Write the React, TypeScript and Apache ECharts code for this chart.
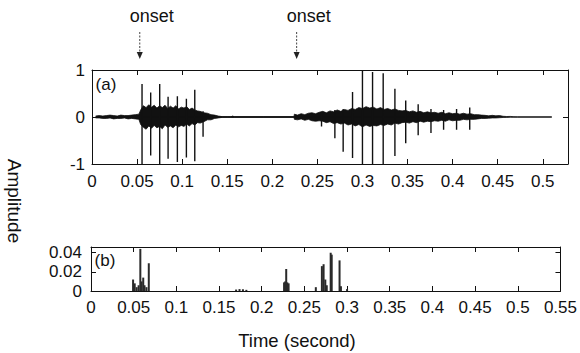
import React, { useEffect, useRef } from "react";
import * as echarts from "echarts";

// onset markers (seconds)
const onsetTimes = [0.053, 0.227];

// (a) speech waveform: noise envelope (upper / lower)
const envTimes = [
  0.004, 0.008, 0.012, 0.016, 0.020, 0.024, 0.028, 0.032, 0.036, 0.040, 0.044, 0.048, 0.052,
  0.054, 0.057, 0.060, 0.063, 0.066, 0.069, 0.072, 0.075, 0.078, 0.081, 0.084, 0.087, 0.090,
  0.093, 0.096, 0.099, 0.102, 0.105, 0.108, 0.111, 0.114, 0.117, 0.120, 0.124, 0.128, 0.132,
  0.136, 0.140, 0.145, 0.150, 0.154, 0.156, 0.158, 0.190, 0.224,
  0.2245, 0.228, 0.232, 0.236, 0.240, 0.244, 0.248, 0.252, 0.256, 0.260, 0.264, 0.268, 0.272,
  0.276, 0.280, 0.284, 0.288, 0.292, 0.296, 0.300, 0.304, 0.308, 0.312, 0.316, 0.320, 0.324,
  0.328, 0.332, 0.336, 0.340, 0.344, 0.348, 0.352, 0.356, 0.360, 0.364, 0.368, 0.372, 0.376,
  0.380, 0.384, 0.388, 0.392, 0.396, 0.400, 0.404, 0.408, 0.412, 0.416, 0.420, 0.424, 0.428,
  0.432, 0.436, 0.440, 0.444, 0.448, 0.452, 0.456, 0.460, 0.464, 0.468, 0.472, 0.510,
];
const envHigh = [
  0.02, 0.03, 0.02, 0.03, 0.04, 0.03, 0.02, 0.04, 0.03, 0.03, 0.04, 0.05, 0.06,
  0.15, 0.24, 0.20, 0.26, 0.21, 0.25, 0.19, 0.24, 0.20, 0.25, 0.18, 0.23, 0.19,
  0.24, 0.17, 0.21, 0.19, 0.22, 0.16, 0.19, 0.15, 0.13, 0.12, 0.09, 0.08, 0.05,
  0.04, 0.02, 0.006, 0.004, 0.004, 0.02, 0.004, 0.004, 0.004,
  0.06, 0.04, 0.07, 0.05, 0.08, 0.09, 0.07, 0.10, 0.12, 0.09, 0.13, 0.11, 0.15,
  0.12, 0.16, 0.14, 0.18, 0.16, 0.20, 0.18, 0.22, 0.19, 0.21, 0.17, 0.20, 0.16,
  0.18, 0.15, 0.17, 0.14, 0.13, 0.14, 0.11, 0.13, 0.10, 0.12, 0.09, 0.11, 0.09,
  0.10, 0.08, 0.10, 0.07, 0.09, 0.07, 0.08, 0.06, 0.08, 0.06, 0.07, 0.05, 0.05,
  0.04, 0.035, 0.025, 0.035, 0.025, 0.03, 0.015, 0.01, 0.012, 0.006, 0.004, 0.004,
];
const envLow = [
  -0.02, -0.02, -0.03, -0.03, -0.02, -0.04, -0.03, -0.03, -0.02, -0.04, -0.03, -0.04, -0.05,
  -0.16, -0.22, -0.26, -0.19, -0.24, -0.18, -0.23, -0.20, -0.25, -0.17, -0.22, -0.19, -0.23,
  -0.17, -0.21, -0.18, -0.20, -0.15, -0.19, -0.14, -0.17, -0.12, -0.13, -0.10, -0.06, -0.06,
  -0.03, -0.02, -0.006, -0.004, -0.004, -0.01, -0.004, -0.004, -0.004,
  -0.05, -0.06, -0.04, -0.07, -0.05, -0.08, -0.09, -0.08, -0.09, -0.12, -0.10, -0.14, -0.12,
  -0.15, -0.13, -0.17, -0.15, -0.19, -0.16, -0.21, -0.17, -0.20, -0.18, -0.19, -0.16, -0.18,
  -0.15, -0.17, -0.13, -0.15, -0.12, -0.11, -0.13, -0.10, -0.12, -0.09, -0.11, -0.09, -0.10,
  -0.08, -0.09, -0.07, -0.09, -0.06, -0.08, -0.07, -0.07, -0.05, -0.06, -0.05, -0.05, -0.04,
  -0.03, -0.03, -0.025, -0.02, -0.02, -0.015, -0.01, -0.008, -0.006, -0.005, -0.004, -0.004,
];

// (a) glottal pulses: time, positive peak, negative peak
const spikeTimes = [
  0.0555, 0.0651, 0.0751, 0.0844, 0.0947, 0.1047, 0.114, 0.1232,
  0.2546, 0.2694, 0.2786, 0.289, 0.300, 0.3112, 0.323, 0.336, 0.348, 0.3618, 0.376, 0.390, 0.4044, 0.419,
];
const spikeUp = [
  0.70, 0.52, 0.70, 0.43, 0.44, 0.39, 0.58, 0.12,
  0.10, 0.15, 0.17, 0.53, 1.0, 0.96, 0.93, 0.60, 0.35, 0.27, 0.17, 0.15, 0.17, 0.20,
];
const spikeDown = [
  -1.0, -0.82, -1.0, -0.89, -0.96, -0.86, -0.94, -0.42,
  -0.20, -0.45, -0.74, -0.87, -1.0, -1.0, -1.0, -0.83, -0.56, -0.39, -0.34, -0.27, -0.27, -0.27,
];

// (b) detection function
const bTimes = [
  0.0493, 0.0512, 0.0535, 0.0558, 0.0578, 0.0593, 0.0612, 0.0627, 0.065, 0.0677,
  0.170, 0.174, 0.178, 0.182,
  0.2262, 0.2275, 0.2287, 0.2300, 0.2315,
  0.2634, 0.2705, 0.2725, 0.2745, 0.2762, 0.2808, 0.2820, 0.2912, 0.2928, 0.300,
];
const bValues = [
  0.012, 0.008, 0.004, 0.006, 0.044, 0.010, 0.014, 0.006, 0.004, 0.029,
  0.0015, 0.002, 0.0018, 0.0012,
  0.009, 0.010, 0.023, 0.009, 0.008,
  0.004, 0.026, 0.028, 0.012, 0.006, 0.040, 0.038, 0.032, 0.005, 0.002,
];

const FONT = "'Liberation Sans', Arial, sans-serif";
const INK = "#111";

export default function App() {
  const ref = useRef<HTMLDivElement>(null);
  useEffect(() => {
    const chart = echarts.init(ref.current!, null, { renderer: "svg" });

    const fmt = (v: number) => String(Math.round(v * 1000) / 1000);
    const boxLine = { show: true, onZero: false, lineStyle: { color: INK, width: 1 } };
    const tickIn = { show: true, inside: true, length: 5, lineStyle: { color: INK, width: 1 } };
    const label = (margin: number, extra: any = {}) => ({
      show: true,
      color: INK,
      fontSize: 17,
      fontFamily: FONT,
      margin,
      formatter: fmt,
      ...extra,
    });

    const spikeData: number[][] = [];
    spikeTimes.forEach((t, i) => {
      spikeData.push([t, 0], [t, spikeUp[i]], [t, spikeDown[i]], [t, 0]);
    });

    chart.setOption({
      animation: false,
      backgroundColor: "#fff",
      grid: [
        { left: 92, top: 70, width: 476, height: 94 },
        { left: 91, top: 247, width: 477, height: 44 },
      ],
      xAxis: [
        {
          type: "value", gridIndex: 0, min: 0, max: 0.528, interval: 0.05, position: "bottom",
          axisLine: boxLine, axisTick: tickIn, splitLine: { show: false },
          axisLabel: label(9, { showMaxLabel: false }),
        },
        {
          type: "value", gridIndex: 0, min: 0, max: 0.528, interval: 0.05, position: "top",
          axisLine: boxLine, axisTick: tickIn, splitLine: { show: false }, axisLabel: { show: false },
        },
        {
          type: "value", gridIndex: 1, min: 0, max: 0.55, interval: 0.05, position: "bottom",
          axisLine: boxLine, axisTick: tickIn, splitLine: { show: false },
          axisLabel: label(8),
        },
        {
          type: "value", gridIndex: 1, min: 0, max: 0.55, interval: 0.05, position: "top",
          axisLine: boxLine, axisTick: tickIn, splitLine: { show: false }, axisLabel: { show: false },
        },
      ],
      yAxis: [
        {
          type: "value", gridIndex: 0, min: -1, max: 1, interval: 1, position: "left",
          axisLine: boxLine, axisTick: tickIn, splitLine: { show: false },
          axisLabel: label(7),
        },
        {
          type: "value", gridIndex: 0, min: -1, max: 1, interval: 1, position: "right",
          axisLine: boxLine, axisTick: tickIn, splitLine: { show: false }, axisLabel: { show: false },
        },
        {
          type: "value", gridIndex: 1, min: 0, max: 0.046, interval: 0.02, position: "left",
          axisLine: boxLine, axisTick: tickIn, splitLine: { show: false },
          axisLabel: label(9, { showMaxLabel: false }),
        },
        {
          type: "value", gridIndex: 1, min: 0, max: 0.046, interval: 0.02, position: "right",
          axisLine: boxLine, axisTick: tickIn, splitLine: { show: false }, axisLabel: { show: false },
        },
      ],
      series: [
        {
          type: "line", xAxisIndex: 0, yAxisIndex: 0, showSymbol: false, silent: true,
          data: envTimes.map((t, i) => [t, envHigh[i]]),
          lineStyle: { color: INK, width: 0.8 },
          areaStyle: { color: INK, opacity: 1 },
        },
        {
          type: "line", xAxisIndex: 0, yAxisIndex: 0, showSymbol: false, silent: true,
          data: envTimes.map((t, i) => [t, envLow[i]]),
          lineStyle: { color: INK, width: 0.8 },
          areaStyle: { color: INK, opacity: 1 },
        },
        {
          type: "line", xAxisIndex: 0, yAxisIndex: 0, showSymbol: false, silent: true,
          data: spikeData,
          lineStyle: { color: INK, width: 1.4 },
        },
        {
          type: "bar", xAxisIndex: 2, yAxisIndex: 2, silent: true,
          data: bTimes.map((t, i) => [t, bValues[i]]),
          barWidth: 2,
          itemStyle: { color: "#2a2a2a" },
        },
      ],
    });

    const xs = onsetTimes.map((t) => chart.convertToPixel({ xAxisIndex: 0 }, t) as number);
    const graphic: any[] = [];
    xs.forEach((x) => {
      graphic.push(
        {
          type: "text",
          x: x + 12,
          y: 16,
          style: { text: "onset", fontSize: 18, fontFamily: FONT, fill: INK, align: "center", verticalAlign: "middle" },
        },
        {
          type: "line",
          shape: { x1: x, y1: 32, x2: x, y2: 54 },
          style: { stroke: "#444", lineWidth: 1, lineDash: [2, 1.5] },
        },
        {
          type: "polygon",
          shape: { points: [[x - 3, 52], [x + 3, 52], [x, 59]] },
          style: { fill: "#222" },
        }
      );
    });
    graphic.push(
      {
        type: "text", x: 106, y: 84,
        style: { text: "(a)", fontSize: 17, fontFamily: FONT, fill: INK, align: "center", verticalAlign: "middle" },
      },
      {
        type: "text", x: 105, y: 260,
        style: { text: "(b)", fontSize: 17, fontFamily: FONT, fill: INK, align: "center", verticalAlign: "middle" },
      },
      {
        type: "text", x: 14, y: 201, rotation: -Math.PI / 2,
        style: { text: "Amplitude", fontSize: 19, fontFamily: FONT, fill: INK, align: "center", verticalAlign: "middle" },
      },
      {
        type: "text", x: 297, y: 340,
        style: { text: "Time (second)", fontSize: 18.5, fontFamily: FONT, fill: INK, align: "center", verticalAlign: "middle" },
      }
    );
    chart.setOption({ graphic });

    return () => chart.dispose();
  }, []);
  return <div ref={ref} style={{ position: "absolute", left: 0, top: 0, width: 580, height: 353 }} />;
}
